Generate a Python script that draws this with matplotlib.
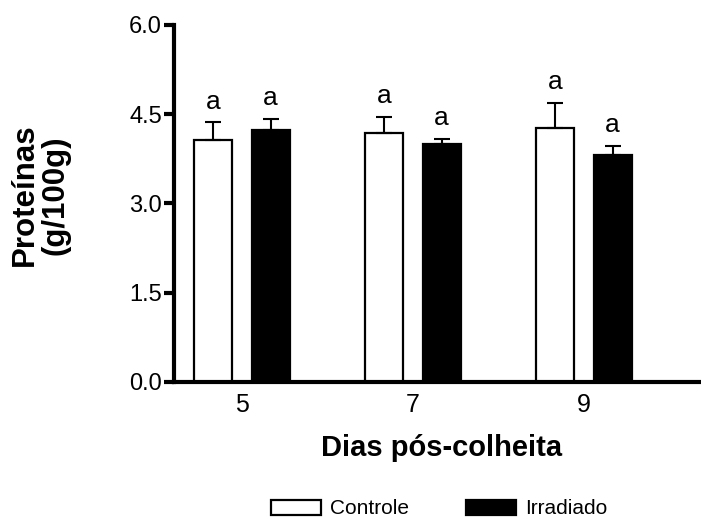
import numpy as np
import matplotlib
matplotlib.use("Agg")
import matplotlib.pyplot as plt

plt.rcParams['font.family'] = ['Liberation Sans', 'DejaVu Sans']

dias = ['5', '7', '9']
controle = [4.07, 4.18, 4.27]
controle_err = [0.29, 0.27, 0.42]
irradiado = [4.23, 4.00, 3.82]
irradiado_err = [0.19, 0.08, 0.15]
letras_controle = ['a', 'a', 'a']
letras_irradiado = ['a', 'a', 'a']

x = np.arange(len(dias))
w = 0.222
off = 0.168

fig = plt.figure(figsize=(7.01, 5.2), dpi=100)
ax = fig.add_axes([0.248, 0.266, 0.751, 0.686])

b1 = ax.bar(x - off, controle, w, color='white', edgecolor='black', linewidth=1.6,
            yerr=[np.zeros(3), controle_err], capsize=6,
            error_kw=dict(elinewidth=1.5, capthick=1.5, ecolor='black'),
            label='Controle', zorder=2)
b2 = ax.bar(x + off, irradiado, w, color='black', edgecolor='black', linewidth=1.6,
            yerr=[np.zeros(3), irradiado_err], capsize=6,
            error_kw=dict(elinewidth=1.5, capthick=1.5, ecolor='black'),
            label='Irradiado', zorder=2)

# letras de significancia
for i in range(len(dias)):
    ax.annotate(letras_controle[i], (x[i] - off, controle[i] + controle_err[i]),
                xytext=(0, 10), textcoords='offset points', ha='center', va='baseline', fontsize=19)
    ax.annotate(letras_irradiado[i], (x[i] + off, irradiado[i] + irradiado_err[i]),
                xytext=(0, 10), textcoords='offset points', ha='center', va='baseline', fontsize=19)

ax.set_ylim(0, 6)
ax.set_xlim(-0.398, 2.68)
ax.set_yticks([0, 1.5, 3.0, 4.5, 6.0])
ax.set_yticklabels(['0.0', '1.5', '3.0', '4.5', '6.0'])
ax.set_xticks(x)
ax.set_xticklabels(dias)
ax.tick_params(axis='y', length=7, width=3, labelsize=17, pad=1.5)
ax.tick_params(axis='x', length=0, labelsize=18, pad=8)

ax.spines['top'].set_visible(False)
ax.spines['right'].set_visible(False)
ax.spines['left'].set_linewidth(3)
ax.spines['bottom'].set_linewidth(3)
ax.spines['left'].set_zorder(3)
ax.spines['bottom'].set_zorder(3)

fig.text(40 / 701, 1 - 195 / 520, 'Proteínas\n(g/100g)', rotation=90, ha='center', va='center',
         multialignment='center', fontsize=22.5, fontweight='bold', linespacing=1.0)
fig.text(442 / 701, 1 - 448 / 520, 'Dias pós-colheita', ha='center', va='center',
         fontsize=21, fontweight='bold')

fig.legend(handles=[b1, b2], loc='center', bbox_to_anchor=(439 / 701, 1 - 509 / 520),
           ncol=2, frameon=False, fontsize=15, handlelength=2.4, handletextpad=0.43,
           columnspacing=2.75, borderpad=0)

fig.savefig('out.png', dpi=100)
